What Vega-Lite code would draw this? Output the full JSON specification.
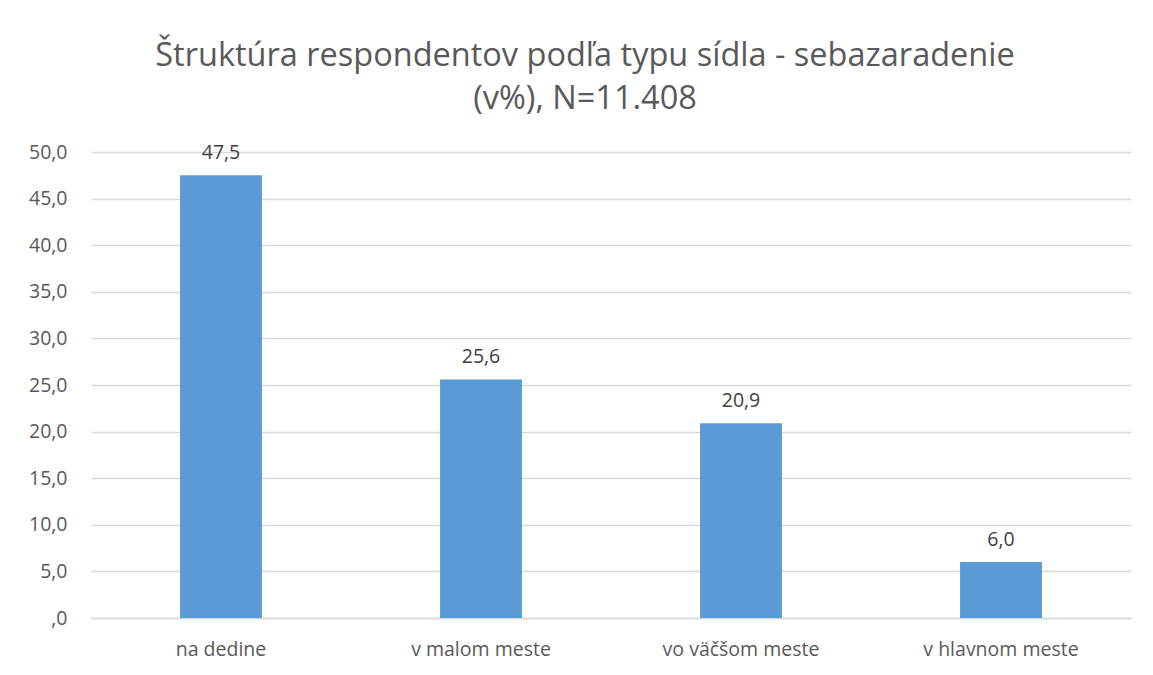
{
  "$schema": "https://vega.github.io/schema/vega-lite/v6.json",
  "width": 1040,
  "height": 466,
  "autosize": {"type": "none"},
  "padding": {"left": 91, "top": 152, "right": 22, "bottom": 57},
  "background": "white",
  "title": {
    "text": ["Štruktúra respondentov podľa typu sídla - sebazaradenie", "(v%), N=11.408"],
    "font": "Open Sans",
    "fontSize": 32.5,
    "fontWeight": "normal",
    "color": "#595959",
    "anchor": "middle",
    "frame": "group",
    "dx": -26,
    "offset": 27,
    "lineHeight": 43
  },
  "data": {
    "values": [
      {"kategoria": "na dedine", "hodnota": 47.5},
      {"kategoria": "v malom meste", "hodnota": 25.6},
      {"kategoria": "vo väčšom meste", "hodnota": 20.9},
      {"kategoria": "v hlavnom meste", "hodnota": 6.0}
    ]
  },
  "encoding": {
    "x": {
      "field": "kategoria",
      "type": "nominal",
      "sort": null,
      "scale": {"paddingInner": 0.685, "paddingOuter": 0.3425},
      "axis": {
        "title": null,
        "labelAngle": 0,
        "labelFont": "Open Sans",
        "labelFontSize": 19.5,
        "labelColor": "#595959",
        "labelPadding": 22,
        "ticks": false,
        "domainColor": "#d9d9d9",
        "domainWidth": 1.3
      }
    },
    "y": {
      "field": "hodnota",
      "type": "quantitative",
      "scale": {"domain": [0, 50], "nice": false},
      "axis": {
        "title": null,
        "values": [0, 5, 10, 15, 20, 25, 30, 35, 40, 45, 50],
        "labelExpr": "datum.value == 0 ? ',0' : replace(format(datum.value, '.1f'), '.', ',')",
        "labelFont": "Open Sans",
        "labelFontSize": 19.5,
        "labelColor": "#595959",
        "labelPadding": 24,
        "ticks": false,
        "domain": false,
        "gridColor": "#d9d9d9",
        "gridWidth": 1.3
      }
    }
  },
  "layer": [
    {"mark": {"type": "bar", "color": "#5b9bd5"}},
    {
      "mark": {"type": "text", "baseline": "bottom", "dy": -12, "font": "Open Sans", "fontSize": 19.5, "color": "#404040"},
      "encoding": {
        "text": {"field": "hodnota", "type": "quantitative", "format": ".1f"}
      }
    }
  ],
  "config": {
    "view": {"stroke": null},
    "locale": {"number": {"decimal": ",", "thousands": ".", "grouping": [3], "currency": ["", " €"]}}
  }
}
